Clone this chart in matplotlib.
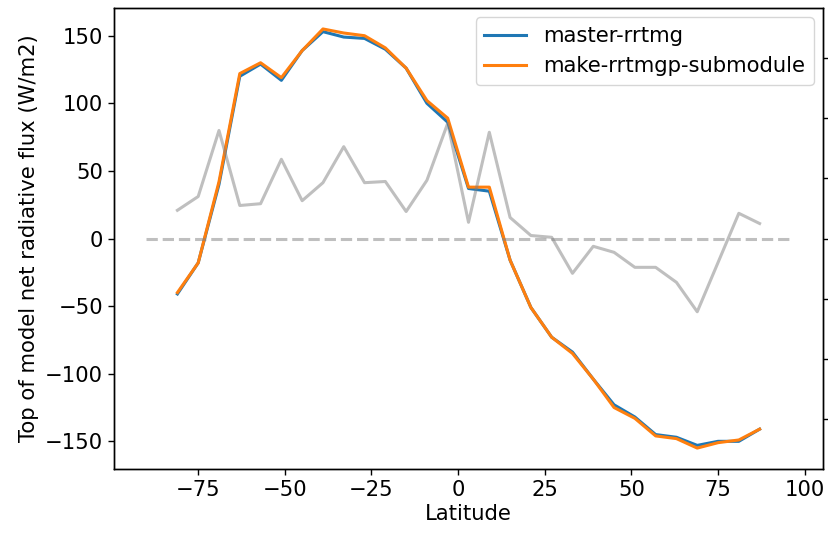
import matplotlib
matplotlib.use("Agg")
import matplotlib.pyplot as plt
from matplotlib.ticker import MultipleLocator

lat = [-81, -75, -69, -63, -57, -51, -45, -39, -33, -27, -21, -15, -9, -3,
       3, 9, 15, 21, 27, 33, 39, 45, 51, 57, 63, 69, 75, 81, 87]

master = [-41, -18, 40, 120, 129, 117, 139, 153, 149, 148, 140, 126, 100, 86,
          37, 35, -16, -51, -73, -84, -104, -123, -132, -145, -147, -153, -150, -150, -141]
make = [-40, -18, 42, 122, 130, 119, 139, 155, 152, 150, 141, 126, 102, 89,
        38, 38, -16, -51, -73, -85, -104, -125, -133, -146, -148, -155, -151, -149, -141]
diff = [0.47, 0.70, 1.80, 0.55, 0.58, 1.32, 0.63, 0.93, 1.53, 0.93, 0.95, 0.45, 0.97, 1.92,
        0.27, 1.77, 0.35, 0.05, 0.02, -0.58, -0.13, -0.23, -0.48, -0.48, -0.73, -1.22, -0.40, 0.42, 0.25]
zero_x = [-90, 96]
zero_y = [0, 0]

plt.rcParams['font.size'] = 15.2
fig = plt.figure(figsize=(8.29, 5.33), dpi=100)
ax = fig.add_axes([0.1375, 0.12, 0.8553, 0.865])
ax.plot(lat, master, color='C0', lw=2.2, label='master-rrtmg')
ax.plot(lat, make, color='C1', lw=2.2, label='make-rrtmgp-submodule')
ax.set_xlabel('Latitude', labelpad=3)
ax.set_ylabel('Top of model net radiative flux (W/m2)', labelpad=4)
ax.legend(loc='upper right', borderaxespad=0.45)
ax.yaxis.set_major_locator(MultipleLocator(50))

ax2 = ax.twinx()
ax2.plot(lat, diff, color='gray', alpha=0.5, lw=2.2)
ax2.plot(zero_x, zero_y, color='gray', alpha=0.5, lw=2.2, ls='--')
m = max(abs(v) for v in diff)
ax2.set_ylim(-2 * m, 2 * m)
ax2.yaxis.set_major_locator(MultipleLocator(1))
ax2.tick_params(labelright=False)

for a in (ax, ax2):
    a.tick_params(length=4.5, width=1.0)
    for s in a.spines.values():
        s.set_linewidth(1.0)

fig.savefig('out.png', dpi=100)
